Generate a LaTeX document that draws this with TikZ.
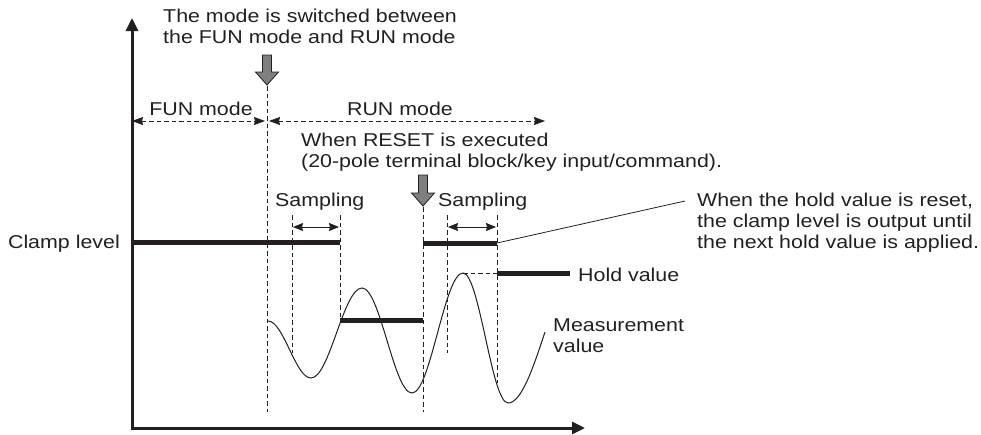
\documentclass[tikz,border=0pt]{standalone}
\usepackage{fontspec}
\setmainfont{Liberation Sans}
\usetikzlibrary{arrows.meta}
\newcommand{\sx}[1]{\scalebox{1.15}[1]{#1}}
\definecolor{ink}{HTML}{231F20}
\definecolor{arrowgray}{HTML}{7F7F7F}
\begin{document}
\begin{tikzpicture}[x=1pt,y=-1pt,
 txt/.style={font=\fontsize{18.6}{21}\selectfont, text=ink, inner sep=0pt, align=left},
 axis/.style={line width=3pt, draw=ink, -{Triangle[length=13pt,width=12pt]}},
 guide/.style={draw=ink, line width=0.8pt, dash pattern=on 4.5pt off 3pt},
 span/.style={guide, {Stealth[length=11pt,width=8pt,inset=1pt]}-{Stealth[length=11pt,width=8pt,inset=1pt]}},
 samp/.style={draw=ink, line width=0.9pt, {Stealth[length=10pt,width=8pt,inset=1pt]}-{Stealth[length=10pt,width=8pt,inset=1pt]}},
 level/.style={draw=ink, line width=5pt},
 wave/.style={draw=ink, line width=1pt},
 leader/.style={draw=ink, line width=0.8pt},
 bigarrow/.style={fill=arrowgray, draw=ink, line width=0.8pt, line join=miter}
]
\useasboundingbox (0,0) rectangle (981,434);

% axes
\coordinate (O) at (132,428);
\coordinate (Ox) at (130.5,428);
\coordinate (ytip) at (132,18);
\coordinate (xtip) at (585,428);
\draw[axis] (O) -- (ytip);
\draw[axis] (Ox) -- (xtip);

% big gray arrows
\draw[bigarrow, shift={(267,85)}] (0,0) -- (-11.5,-13) -- (-4.5,-13) -- (-4.5,-30) -- (4.5,-30) -- (4.5,-13) -- (11.5,-13) -- cycle;
\draw[bigarrow, shift={(423,206)}] (0,0) -- (-11.5,-13) -- (-4.5,-13) -- (-4.5,-31) -- (4.5,-31) -- (4.5,-13) -- (11.5,-13) -- cycle;

% dashed guides
\coordinate (m1) at (267,86);   \coordinate (m2) at (267,412);
\coordinate (a1) at (292,215);  \coordinate (a2) at (292,353);
\coordinate (b1) at (340,215);  \coordinate (b2) at (340,320);
\coordinate (r1) at (423,207);  \coordinate (r2) at (423,412);
\coordinate (c1) at (447,215);  \coordinate (c2) at (447,353);
\coordinate (d1) at (497,215);  \coordinate (d2) at (497,383);
\coordinate (pk) at (463,273);  \coordinate (hv) at (497,273);
\draw[guide] (m1) -- (m2);
\draw[guide] (a1) -- (a2);
\draw[guide] (b1) -- (b2);
\draw[guide] (r1) -- (r2);
\draw[guide] (c1) -- (c2);
\draw[guide] (d1) -- (d2);
\draw[guide] (pk) -- (hv);

% mode spans
\coordinate (f1) at (132,121); \coordinate (f2) at (265,121);
\coordinate (g1) at (269,121); \coordinate (g2) at (545,121);
\draw[span] (f1) -- (f2);
\draw[span] (g1) -- (g2);

% sampling arrows
\coordinate (s1) at (293,227); \coordinate (s2) at (339,227);
\coordinate (t1) at (448,227); \coordinate (t2) at (496,227);
\draw[samp] (s1) -- (s2);
\draw[samp] (t1) -- (t2);

% levels
\coordinate (L1a) at (132,242); \coordinate (L1b) at (340,242);
\coordinate (L2a) at (340,320); \coordinate (L2b) at (423,320);
\coordinate (L3a) at (423,243); \coordinate (L3b) at (497,243);
\coordinate (L4a) at (497,273); \coordinate (L4b) at (570,273);
\draw[level] (L1a) -- (L1b);
\draw[level] (L2a) -- (L2b);
\draw[level] (L3a) -- (L3b);
\draw[level] (L4a) -- (L4b);

% wave
\draw[wave] (268,321) cos (289.5,349.5) sin (311,378) cos (336.5,333) sin (362,288)
  cos (387,340.5) sin (412,393) cos (437.5,333) sin (463,273)
  cos (485.5,338) sin (508,403) cos (545,332);

% texts
\node[txt, anchor=west] (title) at (163,26.5) {\sx{The mode is switched between}\\\sx{the FUN mode and RUN mode}};
\node[txt] (fun) at (201,108.5) {\sx{FUN mode}};
\node[txt] (run) at (400,108.5) {\sx{RUN mode}};
\node[txt, anchor=west] (reset) at (301,152) {\sx{When RESET is executed}\\\sx{(20-pole terminal block/key input/command).}};
\node[txt, anchor=west] (samp1) at (275,201.5) {\sx{Sampling}};
\node[txt, anchor=west] (samp2) at (438,201.5) {\sx{Sampling}};
\node[txt, anchor=east] (clamp) at (120,243.5) {\sx{Clamp level}};
\node[txt, anchor=west] (hold) at (578,274.5) {\sx{Hold value}};
\node[txt, anchor=west] (meas) at (553,335.5) {\sx{Measurement}\\\sx{value}};
\node[txt, anchor=west] (note) at (697,222.5) {\sx{When the hold value is reset,}\\\sx{the clamp level is output until}\\\sx{the next hold value is applied.}};

% leader
\coordinate (ld) at (685,201);
\draw[leader] (L3b) -- (ld);
\end{tikzpicture}
\end{document}
